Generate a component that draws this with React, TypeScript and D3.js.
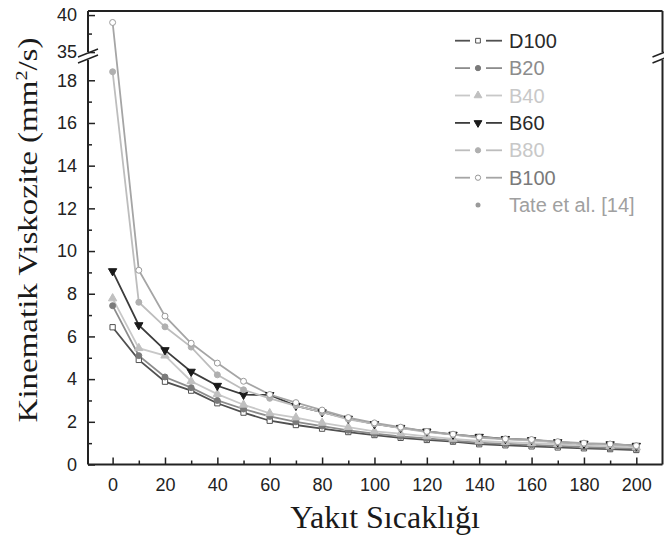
import React, { useEffect, useRef } from 'react';
import * as d3 from 'd3';

// Kinematic viscosity vs fuel temperature, broken y axis

const temps = [0, 10, 20, 30, 40, 50, 60, 70, 80, 90, 100, 110, 120, 130, 140, 150, 160, 170, 180, 190, 200];

const d100 = [6.43, 4.9, 3.88, 3.46, 2.87, 2.43, 2.05, 1.85, 1.68, 1.52, 1.38, 1.25, 1.15, 1.07, 0.95, 0.9, 0.85, 0.8, 0.76, 0.72, 0.68];
const b20 = [7.44, 5.1, 4.1, 3.6, 3.0, 2.6, 2.25, 2.0, 1.8, 1.6, 1.45, 1.32, 1.22, 1.12, 1.02, 0.97, 0.92, 0.87, 0.82, 0.78, 0.75];
const b40 = [7.78, 5.45, 5.1, 3.9, 3.3, 2.8, 2.4, 2.2, 1.95, 1.75, 1.55, 1.45, 1.32, 1.2, 1.1, 1.05, 1.0, 0.95, 0.9, 0.85, 0.8];
const b60 = [9.06, 6.53, 5.36, 4.35, 3.69, 3.27, 3.26, 2.75, 2.45, 2.15, 1.9, 1.72, 1.55, 1.4, 1.3, 1.2, 1.15, 1.05, 0.98, 0.95, 0.88];
const b80 = [18.4, 7.6, 6.45, 5.5, 4.2, 3.5, 3.1, 2.75, 2.45, 2.12, 1.9, 1.7, 1.52, 1.4, 1.25, 1.18, 1.12, 1.04, 0.98, 0.93, 0.86];
const b100 = [39.0, 9.1, 6.95, 5.68, 4.75, 3.9, 3.28, 2.9, 2.55, 2.2, 1.95, 1.75, 1.55, 1.42, 1.28, 1.2, 1.17, 1.07, 1.0, 0.96, 0.88];

const seriesNames = ['D100', 'B20', 'B40', 'B60', 'B80', 'B100'];
const legendNames = ['D100', 'B20', 'B40', 'B60', 'B80', 'B100', 'Tate et al. [14]'];

const xTicks = [0, 20, 40, 60, 80, 100, 120, 140, 160, 180, 200];
const xMinor = [-10, 10, 30, 50, 70, 90, 110, 130, 150, 170, 190, 210];
const yLowTicks = [0, 2, 4, 6, 8, 10, 12, 14, 16, 18];
const yLowMinor = [1, 3, 5, 7, 9, 11, 13, 15, 17];
const yHighTicks = [35, 40];
const yHighMinor = [37.5];

const App = () => {
  const svgRef = useRef(null);

  useEffect(() => {
    const svg = d3.select(svgRef.current);
    svg.selectAll('*').remove();

    const left = 88, right = 662.5, top = 11, bottom = 464.5;
    const gapTop = 52, gapBottom = 60;

    const x = d3.scaleLinear().domain([-9.4, 210]).range([left, right]);
    const yLow = d3.scaleLinear().domain([0, 18.95]).range([bottom, gapBottom]);
    const yHigh = d3.scaleLinear().domain([34.2, 40.55]).range([gapTop + 6, top]);
    const yPos = (v) => (v > 25 ? yHigh(v) : yLow(v));

    const series = [
      { name: 'D100', values: d100, line: '#505050', sym: d3.symbolSquare, fill: '#fff', stroke: '#505050', rot: 0 },
      { name: 'B20', values: b20, line: '#8c8c8c', sym: d3.symbolCircle, fill: '#7a7a7a', stroke: '#7a7a7a', rot: 0 },
      { name: 'B40', values: b40, line: '#c8c8c8', sym: d3.symbolTriangle, fill: '#c0c0c0', stroke: '#c0c0c0', rot: 0 },
      { name: 'B60', values: b60, line: '#3c3c3c', sym: d3.symbolTriangle, fill: '#1a1a1a', stroke: '#1a1a1a', rot: 180 },
      { name: 'B80', values: b80, line: '#bdbdbd', sym: d3.symbolCircle, fill: '#b0b0b0', stroke: '#b0b0b0', rot: 0 },
      { name: 'B100', values: b100, line: '#a5a5a5', sym: d3.symbolCircle, fill: '#fff', stroke: '#999', rot: 0 },
    ].filter(s => seriesNames.includes(s.name));

    const plot = svg.append('g');

    // lines
    const line = d3.line()
      .x((d, i) => x(temps[i]))
      .y(d => yPos(d));

    series.forEach(s => {
      plot.append('path')
        .datum(s.values)
        .attr('d', line)
        .attr('fill', 'none')
        .attr('stroke', s.line)
        .attr('stroke-width', 1.8);
    });

    // markers
    series.forEach(s => {
      plot.selectAll(null)
        .data(s.values)
        .enter()
        .append('path')
        .attr('d', d3.symbol().type(s.sym).size(s.sym === d3.symbolTriangle ? 30 : 28))
        .attr('transform', (d, i) => `translate(${x(temps[i])},${yPos(d)}) rotate(${s.rot})`)
        .attr('fill', s.fill)
        .attr('stroke', s.stroke)
        .attr('stroke-width', 1);
    });

    const axisColor = '#222';
    const tickFont = 'Liberation Sans, Arial, sans-serif';

    // bottom axis
    const gx = svg.append('g')
      .attr('transform', `translate(0, ${bottom})`)
      .call(d3.axisBottom(x).tickValues(xTicks).tickSize(-7).tickPadding(14));
    gx.select('.domain').remove();
    gx.selectAll('line').attr('stroke', axisColor).attr('stroke-width', 1.5);
    gx.selectAll('text').attr('font-size', 18).attr('font-family', tickFont).attr('fill', '#222');

    const gxm = svg.append('g')
      .attr('transform', `translate(0, ${bottom})`)
      .call(d3.axisBottom(x).tickValues(xMinor.filter(v => x(v) > left + 2 && x(v) < right - 2)).tickSize(-4).tickFormat(() => ''));
    gxm.select('.domain').remove();
    gxm.selectAll('line').attr('stroke', axisColor).attr('stroke-width', 1.5);

    // left axis, lower part
    const gy = svg.append('g')
      .attr('transform', `translate(${left}, 0)`)
      .call(d3.axisLeft(yLow).tickValues(yLowTicks).tickSize(-7).tickPadding(11));
    gy.select('.domain').remove();
    gy.selectAll('line').attr('stroke', axisColor).attr('stroke-width', 1.5);
    gy.selectAll('text').attr('font-size', 18).attr('font-family', tickFont).attr('fill', '#222');

    const gym = svg.append('g')
      .attr('transform', `translate(${left}, 0)`)
      .call(d3.axisLeft(yLow).tickValues(yLowMinor).tickSize(-4).tickFormat(() => ''));
    gym.select('.domain').remove();
    gym.selectAll('line').attr('stroke', axisColor).attr('stroke-width', 1.5);

    // left axis, upper part
    const gyh = svg.append('g')
      .attr('transform', `translate(${left}, 0)`)
      .call(d3.axisLeft(yHigh).tickValues(yHighTicks).tickSize(-7).tickPadding(11).tickFormat(d3.format('d')));
    gyh.select('.domain').remove();
    gyh.selectAll('line').attr('stroke', axisColor).attr('stroke-width', 1.5);
    gyh.selectAll('text').attr('font-size', 18).attr('font-family', tickFont).attr('fill', '#222');

    const gyhm = svg.append('g')
      .attr('transform', `translate(${left}, 0)`)
      .call(d3.axisLeft(yHigh).tickValues(yHighMinor).tickSize(-4).tickFormat(() => ''));
    gyhm.select('.domain').remove();
    gyhm.selectAll('line').attr('stroke', axisColor).attr('stroke-width', 1.5);

    // frame with break
    const frame = svg.append('g').attr('stroke', axisColor).attr('stroke-width', 2).attr('fill', 'none');
    frame.append('line').attr('x1', left).attr('x2', right).attr('y1', top).attr('y2', top);
    frame.append('line').attr('x1', left).attr('x2', right).attr('y1', bottom).attr('y2', bottom);
    [left, right].forEach(xx => {
      frame.append('line').attr('x1', xx).attr('x2', xx).attr('y1', top).attr('y2', gapTop);
      frame.append('line').attr('x1', xx).attr('x2', xx).attr('y1', gapBottom).attr('y2', bottom);
      frame.append('line').attr('x1', xx - 10).attr('x2', xx + 10).attr('y1', gapTop + 5).attr('y2', gapTop - 3).attr('stroke-width', 1.5);
      frame.append('line').attr('x1', xx - 10).attr('x2', xx + 10).attr('y1', gapBottom + 3).attr('y2', gapBottom - 5).attr('stroke-width', 1.5);
    });

    // legend
    const legendColors = ['#2a2a2a', '#8c8c8c', '#c8c8c8', '#2a2a2a', '#c8c8c8', '#7a7a7a', '#a0a0a0'];
    const legend = svg.append('g');
    legendNames.forEach((name, i) => {
      const cy = 40.7 + i * 27.4;
      const s = series.find(d => d.name === name);
      const row = legend.append('g');
      if (s) {
        row.append('line').attr('x1', 455).attr('x2', 470).attr('y1', cy).attr('y2', cy).attr('stroke', s.line).attr('stroke-width', 1.8);
        row.append('line').attr('x1', 486).attr('x2', 502).attr('y1', cy).attr('y2', cy).attr('stroke', s.line).attr('stroke-width', 1.8);
        row.append('path')
          .attr('d', d3.symbol().type(s.sym).size(s.sym === d3.symbolTriangle ? 26 : 22))
          .attr('transform', `translate(478,${cy}) rotate(${s.rot})`)
          .attr('fill', s.fill).attr('stroke', s.stroke).attr('stroke-width', 1);
      } else {
        row.append('circle').attr('cx', 478).attr('cy', cy).attr('r', 2.5).attr('fill', '#9a9a9a');
      }
      row.append('text')
        .attr('x', 509).attr('y', cy + 7)
        .attr('font-size', 20).attr('font-family', tickFont)
        .attr('fill', legendColors[i])
        .text(name);
    });

    // axis titles
    svg.append('text')
      .attr('x', 385).attr('y', 528)
      .attr('text-anchor', 'middle')
      .attr('font-family', 'Liberation Serif, Times New Roman, serif')
      .attr('font-size', 32).attr('fill', '#1a1a1a')
      .text('Yakıt Sıcaklığı');

    const yt = svg.append('text')
      .attr('transform', 'translate(37, 230) scale(0.85, 1) rotate(-90)')
      .attr('text-anchor', 'middle')
      .attr('font-family', 'Liberation Serif, Times New Roman, serif')
      .attr('font-size', 33).attr('fill', '#1a1a1a');
    yt.append('tspan').text('Kinematik Viskozite (mm');
    yt.append('tspan').attr('dy', -12).attr('font-size', 20).text('2');
    yt.append('tspan').attr('dy', 12).text('/s)');
  }, []);

  return (
    <svg
      ref={svgRef}
      width="664"
      height="542"
      style={{ position: 'absolute', left: 0, top: 0, background: '#fff' }}
    />
  );
};

export default App;
